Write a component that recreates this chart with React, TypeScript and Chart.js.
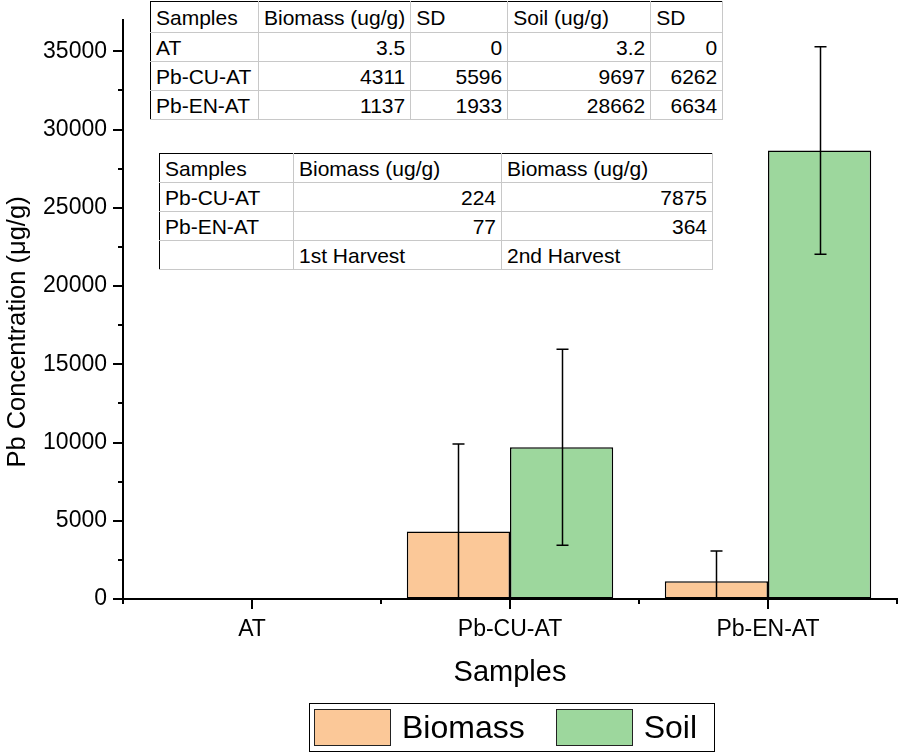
import React, { useEffect, useRef } from "react";
import { Chart, registerables } from "chart.js";

Chart.register(...registerables);

const categories = ["AT", "Pb-CU-AT", "Pb-EN-AT"];
const biomass = [3.5, 4311, 1137];
const biomassSD = [0, 5596, 1933];
const soil = [3.2, 9697, 28662];
const soilSD = [0, 6262, 6634];
const yTicks = [0, 5000, 10000, 15000, 20000, 25000, 30000, 35000];
const yMax = 37000;

const table1Header = ["Samples", "Biomass (ug/g)", "SD", "Soil (ug/g)", "SD"];
const harvestSamples = ["Pb-CU-AT", "Pb-EN-AT"];
const harvest1 = [224, 77];
const harvest2 = [7875, 364];
const table2Header = ["Samples", "Biomass (ug/g)", "Biomass (ug/g)"];
const table2Footer = ["", "1st Harvest", "2nd Harvest"];

const FONT = "'Liberation Sans', Arial, sans-serif";
const BIOMASS_COLOR = "#FBC898";
const SOIL_COLOR = "#9DD79D";

const errorsByDataset = [biomassSD, soilSD];

const customPlugin = {
  id: "customDraw",
  afterDatasetsDraw(chart: any) {
    const { ctx, chartArea, scales } = chart;
    const y = scales.y;
    ctx.save();
    ctx.beginPath();
    ctx.rect(chartArea.left, chartArea.top - 1, chartArea.right - chartArea.left, chartArea.bottom - chartArea.top + 1);
    ctx.clip();
    ctx.strokeStyle = "#000";
    ctx.lineWidth = 1.5;
    chart.data.datasets.forEach((ds: any, di: number) => {
      const meta = chart.getDatasetMeta(di);
      const sds = errorsByDataset[di];
      meta.data.forEach((bar: any, i: number) => {
        const sd = sds[i];
        if (!sd) return;
        const v = ds.data[i];
        const xc = Math.round(bar.x) + 0.5;
        const yt = y.getPixelForValue(v + sd);
        const yb = y.getPixelForValue(v - sd);
        ctx.beginPath();
        ctx.moveTo(xc, yt);
        ctx.lineTo(xc, yb);
        ctx.moveTo(xc - 6, yt);
        ctx.lineTo(xc + 6, yt);
        ctx.moveTo(xc - 6, yb);
        ctx.lineTo(xc + 6, yb);
        ctx.stroke();
      });
    });
    ctx.restore();
  },
  afterDraw(chart: any) {
    const { ctx, chartArea, scales } = chart;
    const x = scales.x;
    const y = scales.y;
    ctx.save();
    ctx.strokeStyle = "#000";
    ctx.lineWidth = 2;
    ctx.beginPath();
    for (let v = 0; v <= yMax; v += 2500) {
      const py = Math.round(y.getPixelForValue(v));
      const major = v % 5000 === 0;
      ctx.moveTo(chartArea.left, py);
      ctx.lineTo(chartArea.left - (major ? 10 : 5), py);
    }
    const n = categories.length;
    for (let i = 0; i < n; i++) {
      const px = Math.round(x.getPixelForValue(i));
      ctx.moveTo(px, chartArea.bottom);
      ctx.lineTo(px, chartArea.bottom + 10);
    }
    const step = (chartArea.right - chartArea.left) / n;
    for (let i = 0; i <= n; i++) {
      const px = Math.round(chartArea.left + i * step);
      ctx.moveTo(px, chartArea.bottom);
      ctx.lineTo(px, chartArea.bottom + 5);
    }
    ctx.stroke();
    ctx.fillStyle = "#000";
    ctx.font = `29px ${FONT}`;
    ctx.textAlign = "center";
    ctx.textBaseline = "alphabetic";
    ctx.fillText("Samples", (chartArea.left + chartArea.right) / 2, 681);
    ctx.translate(25, 332);
    ctx.rotate(-Math.PI / 2);
    ctx.font = `25.5px ${FONT}`;
    ctx.fillText("Pb Concentration (\u03bcg/g)", 0, 0);
    ctx.restore();
  },
};

const cellBase: React.CSSProperties = {
  borderRight: "1px solid #c8c8c8",
  borderBottom: "1px solid #c8c8c8",
  padding: "0 5px",
  whiteSpace: "nowrap",
  overflow: "hidden",
  fontSize: 21,
  lineHeight: "21px",
  color: "#000",
};

function DataTable(props: {
  left: number;
  top: number;
  colWidths: number[];
  rowHeights: number[];
  rows: { text: string; align: "left" | "right" }[][];
}) {
  const { left, top, colWidths, rowHeights, rows } = props;
  return (
    <table
      style={{
        position: "absolute",
        left,
        top,
        borderCollapse: "collapse",
        tableLayout: "fixed",
        border: "1.5px solid #000",
        fontFamily: FONT,
        background: "#fff",
      }}
    >
      <colgroup>
        {colWidths.map((w, i) => (
          <col key={i} style={{ width: w }} />
        ))}
      </colgroup>
      <tbody>
        {rows.map((r, ri) => (
          <tr key={ri} style={{ height: rowHeights[ri] }}>
            {r.map((c, ci) => (
              <td key={ci} style={{ ...cellBase, textAlign: c.align, height: rowHeights[ri], boxSizing: "border-box" }}>
                {c.text}
              </td>
            ))}
          </tr>
        ))}
      </tbody>
    </table>
  );
}

export default function App() {
  const canvasRef = useRef<HTMLCanvasElement | null>(null);

  useEffect(() => {
    if (!canvasRef.current) return;
    const chart = new Chart(canvasRef.current, {
      type: "bar",
      data: {
        labels: categories,
        datasets: [
          {
            label: "Biomass",
            data: biomass,
            backgroundColor: BIOMASS_COLOR,
            borderColor: "#000",
            borderWidth: 1.5,
            borderSkipped: false,
            categoryPercentage: 0.8,
            barPercentage: 1.0,
          },
          {
            label: "Soil",
            data: soil,
            backgroundColor: SOIL_COLOR,
            borderColor: "#000",
            borderWidth: 1.5,
            borderSkipped: false,
            categoryPercentage: 0.8,
            barPercentage: 1.0,
          },
        ],
      },
      options: {
        responsive: false,
        animation: false,
        devicePixelRatio: 1,
        layout: { padding: { left: 0, right: 1, top: 20, bottom: 0 } },
        plugins: {
          legend: { display: false },
          tooltip: { enabled: false },
        },
        scales: {
          x: {
            grid: { display: true, drawOnChartArea: false, drawTicks: false },
            border: { display: true, color: "#000", width: 2 },
            ticks: {
              color: "#000",
              font: { family: FONT, size: 23 },
              padding: 17,
            },
            afterFit: (scale: any) => {
              scale.height = 154;
              scale.paddingLeft = 0;
              scale.paddingRight = 0;
            },
          },
          y: {
            min: 0,
            max: yMax,
            grid: { display: true, drawOnChartArea: false, drawTicks: false },
            border: { display: true, color: "#000", width: 2 },
            afterBuildTicks: (scale: any) => {
              scale.ticks = yTicks.map((v) => ({ value: v }));
            },
            ticks: {
              color: "#000",
              font: { family: FONT, size: 23 },
              padding: 16,
              callback: (v: any) => String(v),
            },
            afterFit: (scale: any) => {
              scale.width = 123;
              scale.paddingTop = 0;
              scale.paddingBottom = 0;
            },
          },
        },
      },
      plugins: [customPlugin],
    } as any);
    return () => chart.destroy();
  }, []);

  const fmt = (v: number) => String(v);
  const t1Rows = [
    table1Header.map((h) => ({ text: h, align: "left" as const })),
    ...categories.map((c, i) => [
      { text: c, align: "left" as const },
      { text: fmt(biomass[i]), align: "right" as const },
      { text: fmt(biomassSD[i]), align: "right" as const },
      { text: fmt(soil[i]), align: "right" as const },
      { text: fmt(soilSD[i]), align: "right" as const },
    ]),
  ];
  const t2Rows = [
    table2Header.map((h) => ({ text: h, align: "left" as const })),
    ...harvestSamples.map((s, i) => [
      { text: s, align: "left" as const },
      { text: fmt(harvest1[i]), align: "right" as const },
      { text: fmt(harvest2[i]), align: "right" as const },
    ]),
    table2Footer.map((h) => ({ text: h, align: "left" as const })),
  ];

  return (
    <div style={{ position: "absolute", left: 0, top: 0, width: 898, height: 753, background: "#fff", fontFamily: FONT }}>
      <canvas ref={canvasRef} width={898} height={753} style={{ position: "absolute", left: 0, top: 0 }} />
      <DataTable left={150} top={1} colWidths={[108, 152, 97, 143, 72]} rowHeights={[31, 29, 29, 29]} rows={t1Rows} />
      <DataTable left={159} top={153} colWidths={[134, 208, 211]} rowHeights={[29, 29, 29, 29]} rows={t2Rows} />
      <div
        style={{
          position: "absolute",
          left: 309,
          top: 703,
          width: 404,
          height: 47,
          border: "1.5px solid #000",
          display: "flex",
          alignItems: "center",
          fontSize: 32,
          color: "#000",
        }}
      >
        <div style={{ width: 77, height: 37, marginLeft: 4, background: BIOMASS_COLOR, border: "1px solid #222", boxSizing: "border-box" }} />
        <span style={{ marginLeft: 11 }}>Biomass</span>
        <div style={{ width: 77, height: 37, marginLeft: 31, background: SOIL_COLOR, border: "1px solid #222", boxSizing: "border-box" }} />
        <span style={{ marginLeft: 11 }}>Soil</span>
      </div>
    </div>
  );
}
